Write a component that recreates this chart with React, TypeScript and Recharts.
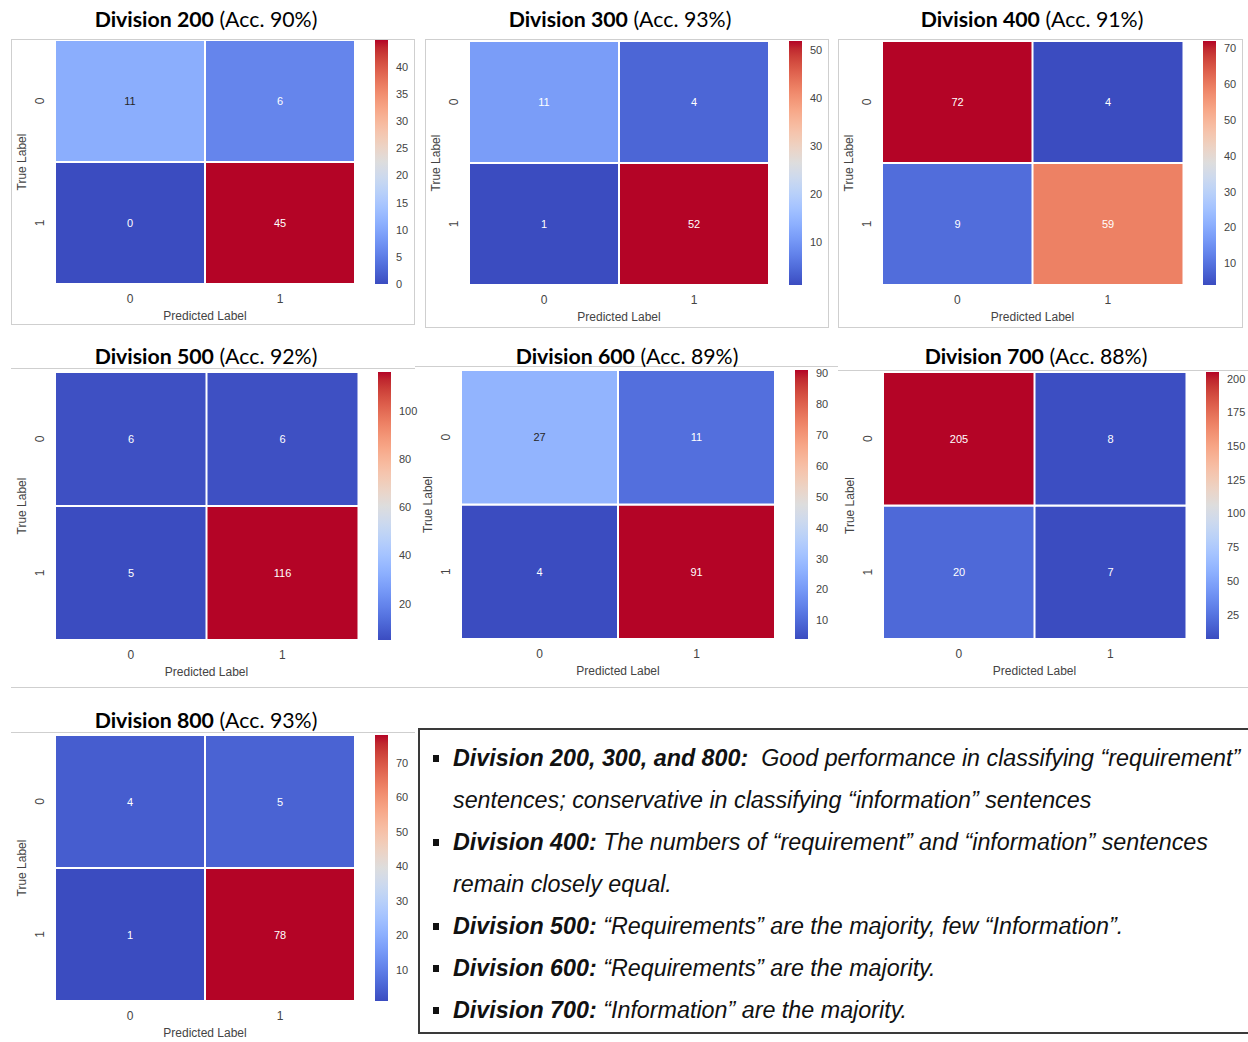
import type { JSX } from 'react';
import { Bar, BarChart, Cell, LabelList, XAxis, YAxis } from 'recharts';

const divisions = ['200', '300', '400', '500', '600', '700', '800'];
const accuracy = [90, 93, 91, 92, 89, 88, 93];
// confusion matrix cells: row = true label, column = predicted label
const true0pred0 = [11, 11, 72, 6, 27, 205, 4];
const true0pred1 = [6, 4, 4, 6, 11, 8, 5];
const true1pred0 = [0, 1, 9, 5, 4, 20, 1];
const true1pred1 = [45, 52, 59, 116, 91, 7, 78];
const predLabels = ['0', '1'];
const trueLabels = ['0', '1'];
const colorbarTicks = [
  [0, 5, 10, 15, 20, 25, 30, 35, 40],
  [10, 20, 30, 40, 50],
  [10, 20, 30, 40, 50, 60, 70],
  [20, 40, 60, 80, 100],
  [10, 20, 30, 40, 50, 60, 70, 80, 90],
  [25, 50, 75, 100, 125, 150, 175, 200],
  [10, 20, 30, 40, 50, 60, 70],
];

const noteHeads = [
  'Division 200, 300, and 800:',
  'Division 400:',
  'Division 500:',
  'Division 600:',
  'Division 700:',
];
const noteLines = [
  ['  Good performance in classifying \u201crequirement\u201d', 'sentences; conservative in classifying \u201cinformation\u201d sentences'],
  [' The numbers of \u201crequirement\u201d and \u201cinformation\u201d sentences', 'remain closely equal.'],
  [' \u201cRequirements\u201d are the majority, few \u201cInformation\u201d.'],
  [' \u201cRequirements\u201d are the majority.'],
  [' \u201cInformation\u201d are the majority.'],
];

// page layout: heatmap cell area and title position of each panel
const panels = [
  { x: 55, y: 40, w: 300, h: 244, tx: 206, ty: 19 },
  { x: 469, y: 41, w: 300, h: 244, tx: 620, ty: 19 },
  { x: 882, y: 41, w: 301, h: 244, tx: 1032, ty: 19 },
  { x: 55, y: 372, w: 303, h: 268, tx: 206, ty: 356 },
  { x: 461, y: 370, w: 314, h: 269, tx: 627, ty: 356 },
  { x: 883, y: 372, w: 303, h: 267, tx: 1036, ty: 356 },
  { x: 55, y: 735, w: 300, h: 266, tx: 206, ty: 720 },
];
const frames = [
  { l: 11, t: 39, r: 415, b: 325, sides: true },
  { l: 425, t: 39, r: 829, b: 328, sides: true },
  { l: 838, t: 39, r: 1243, b: 328, sides: true },
  { l: 11, t: 368, r: 415, b: 688, sides: false },
  { l: 415, t: 366, r: 838, b: 688, sides: false },
  { l: 838, t: 370, r: 1248, b: 688, sides: false },
  { l: 11, t: 732, r: 415, b: 1060, sides: false },
];

// matplotlib coolwarm
const COOLWARM = [
  [59, 76, 192], [68, 90, 204], [77, 104, 215], [87, 117, 225], [98, 130, 234],
  [108, 142, 241], [119, 154, 247], [130, 165, 251], [141, 176, 254], [152, 185, 255],
  [163, 194, 255], [174, 201, 253], [184, 208, 249], [194, 213, 244], [204, 217, 238],
  [213, 219, 230], [221, 221, 221], [229, 216, 209], [236, 211, 197], [241, 204, 184],
  [245, 196, 173], [247, 187, 160], [247, 177, 148], [247, 166, 135], [244, 154, 123],
  [241, 141, 111], [236, 127, 99], [229, 112, 88], [222, 96, 77], [213, 80, 66],
  [203, 62, 56], [192, 40, 47], [180, 4, 38],
];

function cwRgb(t: number): number[] {
  const c = Math.min(1, Math.max(0, t)) * (COOLWARM.length - 1);
  const i = Math.min(COOLWARM.length - 2, Math.floor(c));
  const f = c - i;
  return COOLWARM[i].map((v, k) => Math.round(v + (COOLWARM[i + 1][k] - v) * f));
}
const cw = (t: number) => `rgb(${cwRgb(t).join(',')})`;

function textColor(t: number): string {
  const lin = cwRgb(t).map((v) => {
    const s = v / 255;
    return s <= 0.03928 ? s / 12.92 : Math.pow((s + 0.055) / 1.055, 2.4);
  });
  const lum = 0.2126 * lin[0] + 0.7152 * lin[1] + 0.0722 * lin[2];
  return lum < 0.408 ? '#ffffff' : '#262626';
}

const AXIS_FONT = "'Liberation Sans', Arial, sans-serif";
const AXIS_GRAY = '#444';
const CB_PAD = 8;

function RowTick(props: any): JSX.Element {
  const { x, y, payload } = props;
  const label = trueLabels[payload.value > 1 ? 0 : 1];
  return (
    <text
      x={x}
      y={y}
      transform={`rotate(-90, ${x}, ${y})`}
      textAnchor="middle"
      dominantBaseline="central"
      fontSize={12}
      fontFamily={AXIS_FONT}
      fill={AXIS_GRAY}
    >
      {label}
    </text>
  );
}

function Panel({ i }: { i: number }): JSX.Element {
  const p = panels[i];
  const m = [
    [true0pred0[i], true0pred1[i]],
    [true1pred0[i], true1pred1[i]],
  ];
  const vals = m.flat();
  const vmin = Math.min(...vals);
  const vmax = Math.max(...vals);
  const norm = (v: number) => (v - vmin) / (vmax - vmin);
  const data = predLabels.map((lab, c) => ({
    pred: lab,
    row1: 1,
    row0: 1,
    v0: m[0][c],
    v1: m[1][c],
  }));

  const cellLabel = (props: any) => {
    const { x, y, width, height, value } = props;
    return (
      <text
        x={x + width / 2}
        y={y + height / 2}
        textAnchor="middle"
        dominantBaseline="central"
        fontSize={11}
        fontFamily={AXIS_FONT}
        fill={textColor(norm(value))}
      >
        {value}
      </text>
    );
  };

  const f = frames[i];
  return (
    <>
      <div
        style={{
          position: 'absolute',
          left: f.l,
          top: f.t,
          width: f.r - f.l,
          height: f.b - f.t,
          boxSizing: 'border-box',
          borderTop: '1px solid #cfcfcf',
          borderBottom: '1px solid #cfcfcf',
          borderLeft: f.sides ? '1px solid #cfcfcf' : 'none',
          borderRight: f.sides ? '1px solid #cfcfcf' : 'none',
        }}
      />
      <div
        style={{
          position: 'absolute',
          left: p.tx,
          top: p.ty,
          transform: 'translate(-50%, -50%)',
          whiteSpace: 'nowrap',
          fontFamily: "Lato, 'Open Sans', sans-serif",
          fontSize: 21.3,
          color: '#000',
        }}
      >
        <b>Division {divisions[i]}</b> (Acc. {accuracy[i]}%)
      </div>
      <div style={{ position: 'absolute', left: p.x - 40, top: p.y }}>
        <BarChart
          width={p.w + 40}
          height={p.h + 40}
          data={data}
          margin={{ top: 0, right: 0, bottom: 0, left: 0 }}
          barCategoryGap={0}
          barGap={0}
        >
          <XAxis
            dataKey="pred"
            axisLine={false}
            tickLine={false}
            tickMargin={4}
            height={40}
            tick={{ fontSize: 12, fill: AXIS_GRAY, fontFamily: AXIS_FONT }}
            label={{
              value: 'Predicted Label',
              position: 'insideBottom',
              offset: 4,
              fill: AXIS_GRAY,
              fontSize: 12,
              fontFamily: AXIS_FONT,
            }}
          />
          <YAxis
            type="number"
            domain={[0, 2]}
            ticks={[0.5, 1.5]}
            width={40}
            axisLine={false}
            tickLine={false}
            tickMargin={9}
            tick={<RowTick />}
            label={{
              value: 'True Label',
              angle: -90,
              position: 'insideLeft',
              offset: 7,
              style: { textAnchor: 'middle' },
              fill: AXIS_GRAY,
              fontSize: 12,
              fontFamily: AXIS_FONT,
            }}
          />
          <Bar dataKey="row1" stackId="m" stroke="#fff" strokeWidth={2} isAnimationActive={false}>
            {data.map((d, c) => (
              <Cell key={c} fill={cw(norm(d.v1))} />
            ))}
            <LabelList dataKey="v1" content={cellLabel} />
          </Bar>
          <Bar dataKey="row0" stackId="m" stroke="#fff" strokeWidth={2} isAnimationActive={false}>
            {data.map((d, c) => (
              <Cell key={c} fill={cw(norm(d.v0))} />
            ))}
            <LabelList dataKey="v0" content={cellLabel} />
          </Bar>
        </BarChart>
      </div>
      <div style={{ position: 'absolute', left: p.x + p.w + 20, top: p.y - CB_PAD }}>
        <BarChart
          width={13 + 40}
          height={p.h + 2 * CB_PAD}
          data={[{ name: 'cb', span: [vmin, vmax] }]}
          margin={{ top: CB_PAD, right: 0, bottom: CB_PAD, left: 0 }}
          barCategoryGap={0}
        >
          <defs>
            <linearGradient id={`cw${i}`} x1="0" y1="1" x2="0" y2="0">
              {COOLWARM.map((_, k) => (
                <stop
                  key={k}
                  offset={k / (COOLWARM.length - 1)}
                  stopColor={cw(k / (COOLWARM.length - 1))}
                />
              ))}
            </linearGradient>
          </defs>
          <XAxis dataKey="name" hide />
          <YAxis
            orientation="right"
            type="number"
            domain={[vmin, vmax]}
            allowDataOverflow
            ticks={colorbarTicks[i]}
            interval={0}
            width={40}
            axisLine={false}
            tickLine={false}
            tick={{ fontSize: 11, fill: AXIS_GRAY, fontFamily: AXIS_FONT }}
          />
          <Bar dataKey="span" fill={`url(#cw${i})`} isAnimationActive={false} />
        </BarChart>
      </div>
    </>
  );
}

function Notes(): JSX.Element {
  return (
    <div
      style={{
        position: 'absolute',
        left: 418,
        top: 728,
        width: 832,
        height: 306,
        boxSizing: 'border-box',
        border: '2px solid #3a3a3a',
        paddingTop: 7,
        fontFamily: "'Liberation Sans Narrow', 'Arial Narrow', 'Liberation Sans', sans-serif",
        fontStyle: 'italic',
        fontSize: 23.3,
        lineHeight: '42px',
        color: '#111',
        whiteSpace: 'pre',
      }}
    >
      {noteHeads.map((head, k) => (
        <div key={k} style={{ position: 'relative', paddingLeft: 33 }}>
          <span
            style={{
              position: 'absolute',
              left: 13,
              top: 18,
              width: 6,
              height: 7,
              background: '#111',
            }}
          />
          {noteLines[k].map((line, j) => (
            <div key={j}>
              {j === 0 && <b>{head}</b>}
              {line}
            </div>
          ))}
        </div>
      ))}
    </div>
  );
}

export default function App(): JSX.Element {
  return (
    <div
      style={{
        position: 'absolute',
        left: 0,
        top: 0,
        width: 1248,
        height: 1042,
        background: '#fff',
        overflow: 'hidden',
      }}
    >
      {divisions.map((_, i) => (
        <Panel key={i} i={i} />
      ))}
      <Notes />
    </div>
  );
}
